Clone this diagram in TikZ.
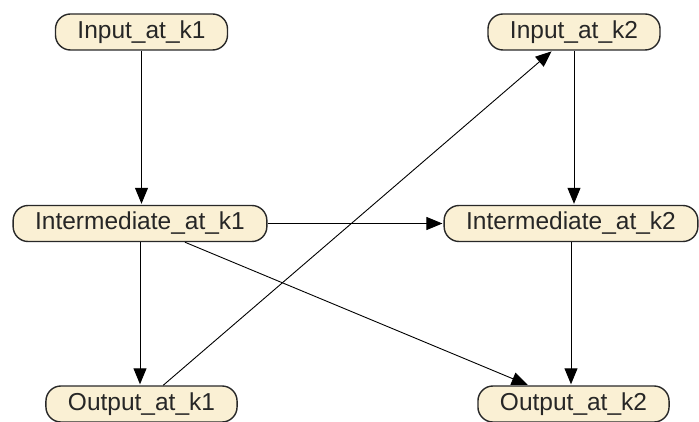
\documentclass[tikz,border=0pt]{standalone}
\usepackage{fontspec}
\setmainfont{Liberation Sans}
\usetikzlibrary{arrows.meta}
\definecolor{varfill}{RGB}{250,240,212}
\definecolor{varline}{RGB}{40,40,40}

\begin{document}
\begin{tikzpicture}[x=1pt,y=-1pt,
    var/.style={draw=varline,fill=varfill,line width=1.4pt,rounded corners=15pt,
      minimum height=36pt,inner ysep=0pt,inner xsep=22pt,
      font=\fontsize{24.5}{29}\selectfont,text=black!85},
    dep/.style={-{Triangle[length=16pt,width=13pt]},line width=0.9pt,black,shorten >=1pt}]
 \useasboundingbox (0,0) rectangle (699,422);
 \node[var] (in1)  at (141.5,32)  {Input\_at\_k1};
 \node[var] (in2)  at (574,32)    {Input\_at\_k2};
 \node[var] (mid1) at (140,223.5) {Intermediate\_at\_k1};
 \node[var] (mid2) at (571,223.5) {Intermediate\_at\_k2};
 \node[var] (out1) at (141.5,404) {Output\_at\_k1};
 \node[var] (out2) at (573.5,404) {Output\_at\_k2};
 \path[dep] foreach \A/\B in {in1/mid1,mid1/out1,in2/mid2,mid2/out2}
   {(\A) edge (\A |- \B.north)};
 \path[dep] foreach \A/\B in {mid1/mid2,mid1/out2,out1/in2}
   {(\A) edge (\B)};

\end{tikzpicture}
\end{document}
